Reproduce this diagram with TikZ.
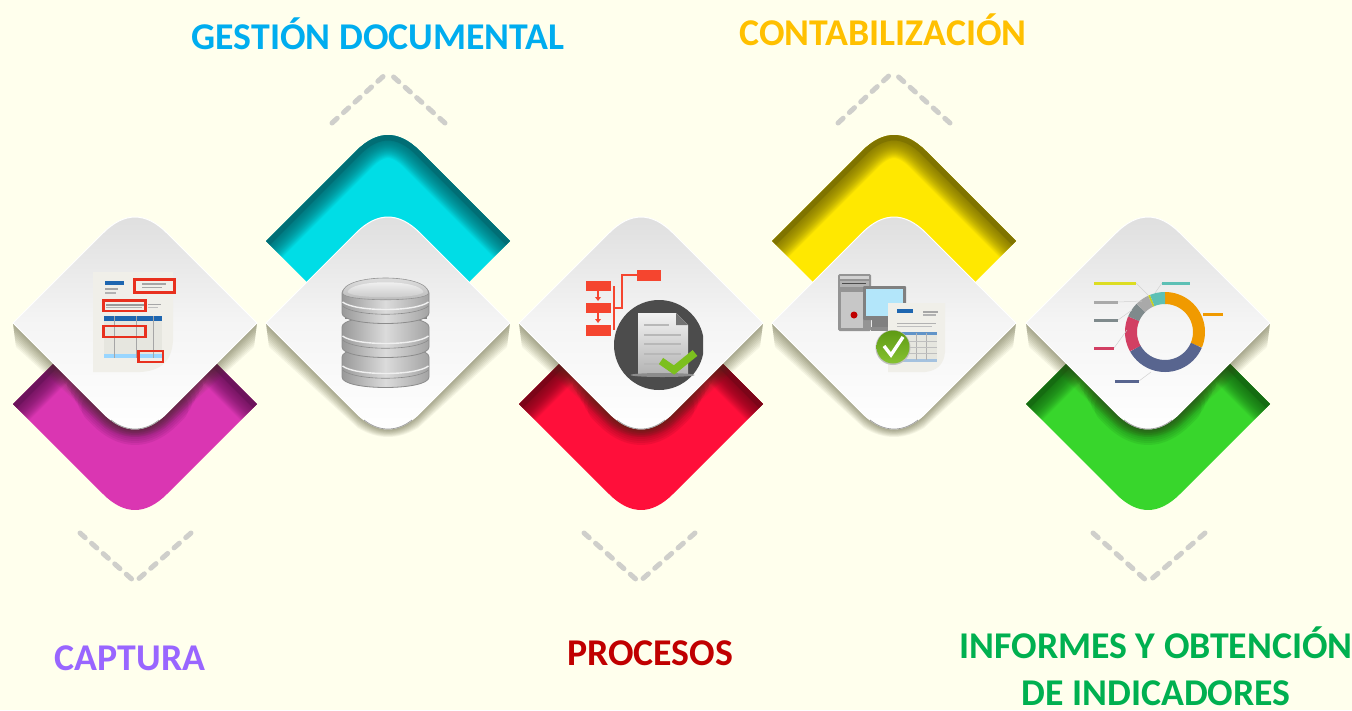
\documentclass[tikz,border=0pt]{standalone}
\usepackage{fontspec}
\setmainfont{Carlito}
\usetikzlibrary{calc}
\definecolor{bgc}{HTML}{FFFFED}
\definecolor{chev}{HTML}{CFCFCB}
\definecolor{shad}{HTML}{3E3E18}
\definecolor{redbox}{HTML}{E8301E}
\definecolor{flow}{HTML}{F5452F}
\definecolor{blueb}{HTML}{1E66B0}
\definecolor{okgreen}{HTML}{7CBF1E}
\definecolor{okdark}{HTML}{5E9A14}
\definecolor{oklight}{HTML}{86C232}
\definecolor{paperc}{HTML}{F0EFE9}
\definecolor{tablec}{HTML}{E6E6DF}
\definecolor{cmag}{HTML}{DA36B2}\definecolor{dmag}{HTML}{5E1050}
\definecolor{ccya}{HTML}{00DDE6}\definecolor{dcya}{HTML}{045F66}
\definecolor{cred}{HTML}{FF0F3A}\definecolor{dred}{HTML}{6A0515}
\definecolor{cyel}{HTML}{FFE800}\definecolor{dyel}{HTML}{6E6400}
\definecolor{cgrn}{HTML}{38D62C}\definecolor{dgrn}{HTML}{125E10}
\definecolor{tblue}{HTML}{00ADEF}\definecolor{tgold}{HTML}{FFC000}
\definecolor{tviolet}{HTML}{9966FF}\definecolor{tred}{HTML}{C00000}\definecolor{tgreen}{HTML}{00B050}
\tikzset{
  title/.style={font=\bfseries\fontsize{37.8}{37.8}\selectfont,inner sep=0pt,anchor=base},
  chevron/.style={draw=chev,line width=5pt,line cap=round,dash pattern=on 7pt off 8.5pt},
  legendbar/.style={line width=3pt,draw=#1},
  leader/.style={draw=black!18,line width=.5pt},
  disc/.style={left color=black!40,right color=black!36,middle color=black!14,draw=black!45,line width=.8pt}
}
\newcommand{\diamondpath}{(-122,0) -- (-32,-90) .. controls (-10.7,-111.3) and (10.7,-111.3) .. (32,-90) -- (122,0) -- (32,90) .. controls (10.7,111.3) and (-10.7,111.3) .. (-32,90) -- cycle}
\newcommand{\topedges}{(-122,0) -- (-32,-90) .. controls (-10.7,-111.3) and (10.7,-111.3) .. (32,-90) -- (122,0)}
\newcommand{\gemcolor}[4]{%
  \begin{scope}[shift={(#1,#2)}]
    \fill[#3] \diamondpath;
    \begin{scope}
      \clip \diamondpath;
      \foreach \w in {46,44,...,12}
        \draw[#4,opacity=.07,line width=\w pt,line join=round] \topedges;
      \draw[#4,line width=11pt,opacity=.45,line join=round] \topedges;
    \end{scope}
  \end{scope}}
% dark halo of the white diamond on a lower coloured diamond: narrower strokes reach farther
\newcommand{\gemnotch}[3]{%
  \begin{scope}[shift={(#1,404)}]
    \clip \diamondpath;
    \begin{scope}[shift={(0,-81)}]
      \foreach \w in {32,28,...,4}{
        \pgfmathsetmacro{\dd}{(36-\w)*1.4}
        \draw[#2,opacity=#3,line width=\w pt,line join=round,line cap=round] ({-32-\dd},{90-\dd}) -- (-32,90) .. controls (-10.7,111.3) and (10.7,111.3) .. (32,90) -- ({32+\dd},{90-\dd});
      }
    \end{scope}
  \end{scope}}
% soft wedge-shaped shadow under the lower edges
\newcommand{\gemshadow}[2]{%
  \begin{scope}[shift={(#1,#2)}]
    \foreach \k in {1,...,10}
      \fill[shad,opacity=.055] (-122,0) -- ({-122+.3*\k},{2.4*\k}) -- (-30,{92+1.3*\k}) .. controls (-10,{111+.6*\k}) and (10,{111+.6*\k}) .. (30,{92+1.3*\k}) -- ({122-.3*\k},{2.4*\k}) -- (122,0) -- cycle;
  \end{scope}}
\newcommand{\gemwhite}[2]{%
  \begin{scope}[shift={(#1,#2)}]
    \shade[top color=black!13,bottom color=white,middle color=black!4] \diamondpath;
    \draw[white,line width=1pt] \diamondpath;
    \draw[black!40,line width=.7pt] (-24,97) .. controls (-9,109) and (9,109) .. (24,97);
  \end{scope}}
\newcommand{\dbdisc}[1]{%
  \begin{scope}[shift={(385.5,#1)}]
    \path[disc] (-43.5,0) -- (-43.5,20) .. controls (-43.5,34) and (43.5,34) .. (43.5,20) -- (43.5,0) .. controls (43.5,-14) and (-43.5,-14) .. (-43.5,0) -- cycle;
    \draw[black!6,line width=1.4pt] (-43,9) .. controls (-30,19) and (30,19) .. (43,9);
    \draw[black!45,line width=.6pt] (-43,13) .. controls (-30,24) and (30,24) .. (43,13);
  \end{scope}}
\begin{document}
\begin{tikzpicture}[x=1pt,y=-1pt]
\useasboundingbox (0,0) rectangle (1352,710);
\fill[bgc] (0,0) rectangle (1352,710);

% coloured diamonds
\gemcolor{135}{404}{cmag}{dmag}
\gemcolor{388}{241}{ccya}{dcya}
\gemcolor{641}{404}{cred}{dred}
\gemcolor{894}{241}{cyel}{dyel}
\gemcolor{1148}{404}{cgrn}{dgrn}
\gemnotch{135}{dmag}{.11}\gemnotch{641}{dred}{.11}\gemnotch{1148}{dgrn}{.11}

% shadows, then white diamonds
\gemshadow{135}{323}\gemshadow{388}{323}\gemshadow{641}{323}\gemshadow{894}{323}\gemshadow{1148}{323}
\gemwhite{135}{323}\gemwhite{388}{323}\gemwhite{641}{323}\gemwhite{894}{323}\gemwhite{1148}{323}

% dashed chevrons
\coordinate (u1a) at (332,123);\coordinate (u1b) at (388,72);\coordinate (u1c) at (445,123);
\coordinate (u2a) at (838,123);\coordinate (u2b) at (893,72);\coordinate (u2c) at (950,123);
\coordinate (d1a) at (80,533);\coordinate (d1b) at (135,582);\coordinate (d1c) at (191,533);
\coordinate (d2a) at (584,533);\coordinate (d2b) at (639,582);\coordinate (d2c) at (695,533);
\coordinate (d3a) at (1093,533);\coordinate (d3b) at (1148,582);\coordinate (d3c) at (1205,533);
\foreach \n in {u1,u2,d1,d2,d3}{
  \draw[chevron] (\n a) -- (\n b);
  \draw[chevron] (\n c) -- (\n b);
}

% titles
\node[title,text=tblue] (t1) at (378,49) {GESTIÓN DOCUMENTAL};
\node[title,text=tgold] (t2) at (883,45) {CONTABILIZACIÓN};
\node[title,text=tviolet] (t3) at (130,670) {CAPTURA};
\node[title,text=tred] (t4) at (650,665) {PROCESOS};
\node[title,text=tgreen] (t5) at (1156,658) {INFORMES Y OBTENCIÓN};
\node[title,text=tgreen] (t6) at (1156,705) {DE INDICADORES};

% ---- icon 1: invoice
\fill[paperc] (93,272) -- (173,272) -- (173,340) .. controls (172,362) and (160,371) .. (140,372) -- (93,372) -- cycle;
\fill[blueb] (105,281) rectangle (124,285);
\fill[black!35] (105,288) rectangle (118,290);\fill[black!30] (105,292) rectangle (116,293.5);
\fill[black!35] (142,283) rectangle (166,284.5);\fill[black!35] (142,286.5) rectangle (162,288);
\fill[black!40] (106,304) rectangle (144,305.5);\fill[black!30] (106,307) rectangle (142,308);
\fill[black!35] (148,303.5) rectangle (161,305);\fill[black!25] (148,307) rectangle (158,308);
\fill[tablec] (104,317) rectangle (162,358);
\fill[blueb] (104,316) rectangle (162,321);
\fill[blue!40!cyan!40!white] (104,354) rectangle (162,358);
\foreach \vx in {114,136,153}{\draw[black!35,line width=.6pt] (\vx,316) -- (\vx,358);}
\draw[redbox,line width=2.2pt] (134.5,279.5) rectangle (174.5,292.5);
\draw[redbox,line width=2.2pt] (103.5,300.5) rectangle (145.5,311);
\draw[redbox,line width=2.2pt] (103.5,326) rectangle (145.5,337);
\draw[redbox,line width=2.2pt] (138.5,351) rectangle (163,362);

% ---- icon 2: database
\dbdisc{357}
\fill[black!48] (345,346) rectangle (427,351);
\dbdisc{327}
\fill[black!48] (345,316) rectangle (427,319);
\dbdisc{293}
\begin{scope}[shift={(385.5,293)}]
  \path[top color=black!10,bottom color=black!28,draw=black!42,line width=.6pt] (-43,0) .. controls (-43,-20) and (43,-20) .. (43,0) .. controls (43,9) and (-43,9) .. (-43,0) -- cycle;
  \path[top color=black!3,bottom color=black!22] (-38,-1) .. controls (-34,-14) and (34,-14) .. (38,-1) .. controls (34,6) and (-34,6) .. (-38,-1) -- cycle;
\end{scope}

% ---- icon 3: flow + document
\fill[flow] (586,281) rectangle (611,291);
\fill[flow] (586,303) rectangle (611,313);
\fill[flow] (586,325) rectangle (611,336);
\fill[flow] (637,270) rectangle (661,281);
\draw[flow,line width=1.2pt] (598,291) -- (598,298);
\fill[flow] (595,297) -- (601,297) -- (598,301) -- cycle;
\draw[flow,line width=1.2pt] (598,313) -- (598,320);
\fill[flow] (595,319) -- (601,319) -- (598,323) -- cycle;
\draw[flow,line width=1.3pt] (614,286) -- (614,330);
\draw[flow,line width=1.3pt] (614,308) -- (622,308) -- (622,275) -- (637,275);
\begin{scope}
  \clip (600,290) rectangle (703,390);
  \fill[black!70] (659,345) circle [radius=45];
\end{scope}
\shade[top color=black!5,bottom color=black!30] (638,313) -- (676,313) -- (688,325) -- (688,375) -- (638,375) -- cycle;
\fill[black!55] (676,313) -- (688,325) -- (676,325) -- cycle;
\foreach \ly/\lx in {325/669,335/681,344/681,354/681,364/672}{\draw[black!28,line width=1.2pt] (644,\ly) -- (\lx,\ly);}
\fill[black!45] (662.5,375) ellipse [x radius=32,y radius=2];
\draw[okgreen,line width=7.5pt,line join=miter] (661,361) -- (674,370) -- (695,353);

% ---- icon 4: computer + invoice
\fill[black!42,rounded corners=1.5pt] (838,274) rectangle (871,331);
\fill[black!18] (840,276) rectangle (869,279);
\fill[black!30] (840,281) rectangle (869,287);
\draw[black!70,line width=.8pt] (842,283) -- (866,283);
\fill[black!22] (841,292) rectangle (863,328);
\fill[red!75!black] (854,315) circle [radius=3.5];
\fill[black!50,rounded corners=1pt] (863,286) rectangle (906,320);
\fill[cyan!30!white] (866,289) rectangle (903,316);
\fill[black!50] (872,320) rectangle (890,327);
\fill[black!45] (871,327) rectangle (893,331);
\fill[paperc] (888,303) -- (945,303) -- (945,352) .. controls (944,365) and (936,371) .. (925,372) -- (888,372) -- cycle;
\fill[blueb] (897,309) rectangle (913,313);
\fill[black!35] (923,311) rectangle (938,312.5);\fill[black!30] (923,314) rectangle (936,315.5);
\fill[black!30] (897,323) rectangle (936,324);\fill[black!25] (897,326) rectangle (932,327);
\fill[tablec] (897,333) rectangle (937,361);
\fill[blueb!70!white] (897,332) rectangle (937,335);
\fill[blueb!40!white] (897,359) rectangle (937,362);
\foreach \vx in {916,926}{\draw[black!30,line width=.5pt] (\vx,333) -- (\vx,360);}
\foreach \vy in {341,347,353}{\draw[black!25,line width=.4pt] (897,\vy) -- (937,\vy);}
\fill[black!25] (893,347.5) circle [radius=17.5];
\shade[top color=okdark,bottom color=oklight] (893,347) circle [radius=16.5];
\draw[white,line width=3.4pt,line join=miter] (884,346) -- (891,355) -- (903,337);

% ---- icon 5: donut
\foreach \a/\b/\c in {90/-23/F09A00,-23/-151/58658F,-151/-203/D23F63,-203/-225/7F8A8C,-225/-245/A9A9A9,-245/-248/C8D020,-248/-270/5DC0B5}{
  \definecolor{segc}{HTML}{\c}
  \draw[segc,line width=12pt] plot[domain=\a:\b,samples=24,smooth] ({1165+34*cos(\x)},{332-34*sin(\x)});
}
\draw[leader] (1136,283) -- (1148,295);
\draw[leader] (1118,302) -- (1142,301);
\draw[leader] (1118,320) -- (1132,310);
\draw[leader] (1114,348) -- (1127,330);
\draw[leader] (1139,381) -- (1151,372);
\draw[leader] (1162,283) -- (1155,293);
\definecolor{l1}{HTML}{DDDD22}\definecolor{l2}{HTML}{5DC0B5}\definecolor{l3}{HTML}{F09A00}
\definecolor{l4}{HTML}{A9A9A9}\definecolor{l5}{HTML}{7F8A8C}\definecolor{l6}{HTML}{D23F63}\definecolor{l7}{HTML}{58658F}
\draw[legendbar=l1] (1094,283) -- (1136,283);
\draw[legendbar=l2] (1162,283) -- (1190,283);
\draw[legendbar=l3] (1203,314) -- (1223,314);
\draw[legendbar=l4] (1094,302) -- (1118,302);
\draw[legendbar=l5] (1094,320) -- (1118,320);
\draw[legendbar=l6] (1094,348) -- (1114,348);
\draw[legendbar=l7] (1115,381) -- (1139,381);
\end{tikzpicture}
\end{document}
